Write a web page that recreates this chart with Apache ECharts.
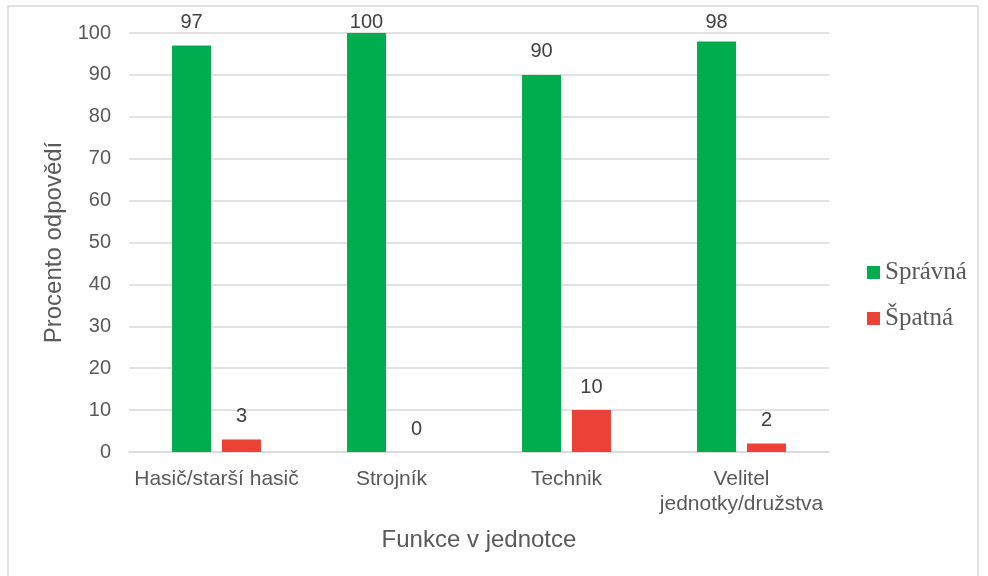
<!DOCTYPE html>
<html>
<head>
<meta charset="utf-8">
<script src="https://cdn.jsdelivr.net/npm/echarts@6/dist/echarts.min.js"></script>
<style>
  html, body { margin: 0; padding: 0; background: #fff; }
  #main { width: 988px; height: 576px; }
</style>
</head>
<body>
<div id="main"></div>
<script>
// data
let categories = ['Hasič/starší hasič', 'Strojník', 'Technik', 'Velitel\njednotky/družstva'];
let spravna = [97, 100, 90, 98];
let spatna = [3, 0, 10, 2];
let yTicks = [0, 10, 20, 30, 40, 50, 60, 70, 80, 90, 100];

let myChart = echarts.init(document.getElementById('main'));
let labelStyle = {
    show: true,
    position: 'top',
    distance: 13,
    color: '#404040',
    fontFamily: 'Liberation Sans',
    fontSize: 20
};
// popisky nesmí vylézt nad graf (jako v Excelu)
function clampLabel(params) {
    let r = params.labelRect;
    if (r.y >= 12) return {};
    return {
        x: r.x + r.width / 2,
        y: 12,
        align: 'center',
        verticalAlign: 'top'
    };
}
let option = {
    backgroundColor: '#fff',
    animation: false,
    graphic: [{
        type: 'rect',
        shape: {x: 8, y: 6, width: 970, height: 580},
        style: {fill: 'none', stroke: '#d9d9d9', lineWidth: 1.5},
        silent: true
    }],
    grid: {
        left: 129,
        right: 159,
        top: 33,
        bottom: 124
    },
    legend: {
        orient: 'vertical',
        left: 862,
        top: 255,
        itemWidth: 13,
        itemHeight: 13,
        itemGap: 21,
        icon: 'rect',
        textStyle: {
            fontFamily: 'Liberation Serif',
            fontSize: 25,
            color: '#595959'
        },
        data: ['Správná', 'Špatná']
    },
    xAxis: {
        type: 'category',
        data: categories,
        name: 'Funkce v jednotce',
        nameLocation: 'middle',
        nameGap: 76,
        nameTextStyle: {fontFamily: 'Liberation Sans', fontSize: 24, color: '#595959'},
        axisLine: {lineStyle: {color: '#d9d9d9', width: 1.5}},
        axisTick: {show: false},
        axisLabel: {
            fontFamily: 'Liberation Sans',
            fontSize: 21,
            color: '#595959',
            margin: 15,
            lineHeight: 25,
            interval: 0
        }
    },
    yAxis: {
        type: 'value',
        min: yTicks[0],
        max: yTicks[yTicks.length - 1],
        interval: 10,
        name: 'Procento odpovědí',
        nameLocation: 'middle',
        nameGap: 62,
        nameTextStyle: {fontFamily: 'Liberation Sans', fontSize: 24, color: '#595959'},
        axisLine: {show: false},
        axisTick: {show: false},
        axisLabel: {
            fontFamily: 'Liberation Sans',
            fontSize: 20,
            color: '#595959',
            margin: 18
        },
        splitLine: {lineStyle: {color: '#d9d9d9', width: 1.5}}
    },
    series: [
        {
            name: 'Správná',
            type: 'bar',
            data: spravna,
            barWidth: 39,
            barGap: '28%',
            itemStyle: {color: '#00ad4e'},
            label: labelStyle,
            labelLayout: clampLabel
        },
        {
            name: 'Špatná',
            type: 'bar',
            data: spatna,
            barWidth: 39,
            itemStyle: {color: '#ea4335'},
            label: labelStyle,
            labelLayout: clampLabel
        }
    ]
};
myChart.setOption(option);
</script>
</body>
</html>
